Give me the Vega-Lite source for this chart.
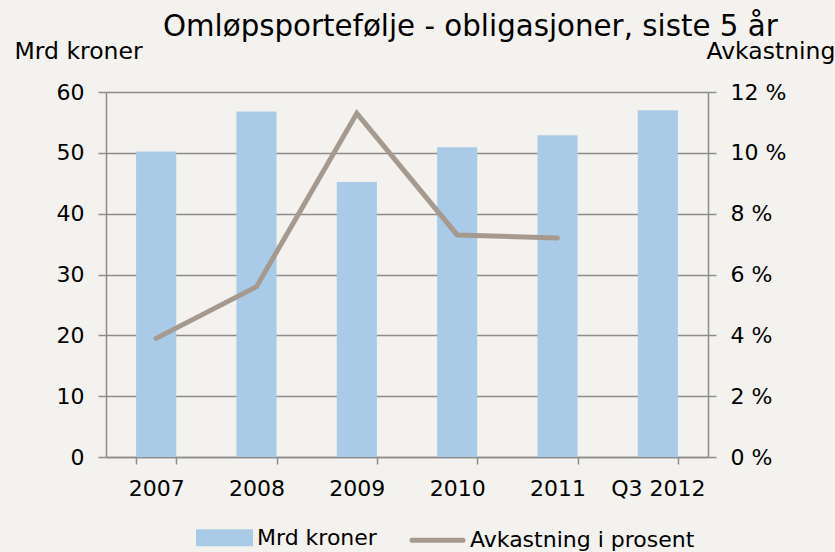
{
  "$schema": "https://vega.github.io/schema/vega-lite/v6.json",
  "width": 602,
  "height": 365,
  "autosize": {"type": "none"},
  "padding": {"left": 106, "top": 92, "right": 127, "bottom": 95},
  "background": "#F4F2EE",
  "config": {
    "font": "DejaVu Sans",
    "view": {"stroke": null},
    "axis": {"labelColor": "#000000", "titleColor": "#000000", "domainColor": "#8C8C8C", "tickColor": "#8C8C8C", "domainWidth": 1.5, "tickWidth": 1.5, "labelFontSize": 22, "titleFontSize": 23.5, "titleFontWeight": "normal"}
  },
  "title": {
    "text": "Omløpsportefølje - obligasjoner, siste 5 år",
    "anchor": "start",
    "frame": "group",
    "dx": 57,
    "dy": 3,
    "fontSize": 29.3,
    "fontWeight": "normal",
    "color": "#000000",
    "offset": 0
  },
  "data": {
    "values": [
      {"year": "2007", "mrd": 50.2, "avk": 3.9},
      {"year": "2008", "mrd": 56.8, "avk": 5.6},
      {"year": "2009", "mrd": 45.2, "avk": 11.3},
      {"year": "2010", "mrd": 50.9, "avk": 7.3},
      {"year": "2011", "mrd": 52.9, "avk": 7.2},
      {"year": "Q3 2012", "mrd": 57.0, "avk": null}
    ]
  },
  "encoding": {
    "x": {
      "field": "year",
      "type": "nominal",
      "sort": null,
      "scale": {"paddingInner": 0.6, "paddingOuter": 0.3},
      "axis": {"title": null, "labelAngle": 0, "tickBand": "extent", "grid": false, "labelPadding": 14, "tickSize": 7}
    }
  },
  "layer": [
    {
      "mark": {"type": "bar"},
      "encoding": {
        "y": {
          "field": "mrd",
          "type": "quantitative",
          "scale": {"domain": [0, 60]},
          "axis": {
            "orient": "left",
            "values": [0, 10, 20, 30, 40, 50, 60],
            "title": "Mrd kroner",
            "titleAngle": 0,
            "titleAlign": "left",
            "titleBaseline": "alphabetic",
            "titleX": -92,
            "titleY": -34,
            "labelPadding": 14,
            "tickSize": 8,
            "grid": true,
            "gridColor": "#8C8C8C",
            "gridWidth": 1.5
          }
        },
        "color": {
          "datum": "Mrd kroner",
          "type": "nominal",
          "scale": {"domain": ["Mrd kroner", "Avkastning i prosent"], "range": ["#AACBE7", "#A69A8F"]},
          "legend": {
            "title": null,
            "orient": "none",
            "direction": "horizontal",
            "legendX": 90,
            "legendY": 417,
            "symbolSize": 2704,
            "labelFontSize": 22,
            "labelColor": "#000000",
            "labelOffset": 4,
            "columnPadding": 25,
            "labelLimit": 400,
            "encode": {
              "symbols": {
                "update": {
                  "shape": {"signal": "datum.label == 'Mrd kroner' ? 'M-1,-0.23H1V0.23H-1Z' : 'M-0.98,0H0.98'"},
                  "fill": {"signal": "datum.label == 'Mrd kroner' ? '#AACBE7' : 'transparent'"},
                  "stroke": {"signal": "datum.label == 'Mrd kroner' ? 'transparent' : '#A69A8F'"},
                  "strokeWidth": {"value": 5},
                  "strokeCap": {"value": "round"},
                  "opacity": {"value": 1}
                }
              }
            }
          }
        }
      }
    },
    {
      "mark": {"type": "line", "strokeWidth": 5, "strokeCap": "round"},
      "encoding": {
        "y": {
          "field": "avk",
          "type": "quantitative",
          "scale": {"domain": [0, 12]},
          "axis": {
            "orient": "right",
            "values": [0, 2, 4, 6, 8, 10, 12],
            "labelExpr": "datum.value + ' %'",
            "title": "Avkastning",
            "titleAngle": 0,
            "titleAlign": "left",
            "titleBaseline": "alphabetic",
            "titleX": -2,
            "titleY": -34,
            "labelPadding": 14,
            "tickSize": 8,
            "grid": false
          }
        },
        "color": {"datum": "Avkastning i prosent", "type": "nominal"}
      }
    }
  ],
  "resolve": {"scale": {"y": "independent"}}
}
